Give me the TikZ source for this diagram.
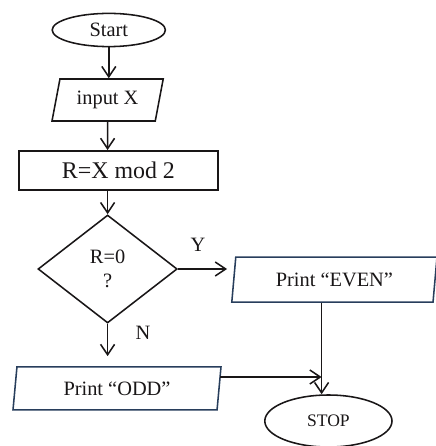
\documentclass[tikz,border=0pt]{standalone}
\usepackage{fontspec}
\setmainfont{Liberation Serif}
\usepackage{xcolor}
\usetikzlibrary{shapes.geometric,arrows.meta}
\definecolor{ink}{RGB}{25,22,23}
\definecolor{slate}{RGB}{40,62,92}

\begin{document}
\begin{tikzpicture}[
			line width=1.1pt, draw=ink, text=ink,
			term/.style={draw, ellipse, inner sep=0pt, font=\fontsize{14.5}{17}\selectfont},
			io/.style={draw, trapezium, trapezium stretches body, trapezium left angle=66, trapezium right angle=114, inner sep=0pt, font=\fontsize{14.5}{17}\selectfont},
			proc/.style={draw, rectangle, inner sep=0pt, minimum width=4.98cm, minimum height=0.98cm, font=\fontsize{17}{20}\selectfont},
			dec/.style={draw, diamond, aspect=1.29, inner sep=0pt, minimum width=3.48cm, minimum height=2.7cm, align=center, font=\fontsize{14.5}{17}\selectfont},
			lbl/.style={font=\fontsize{14.5}{17}\selectfont},
			arrow/.style={-{Straight Barb[length=2.6mm,width=3.5mm,line width=1.1pt]}, line width=1.1pt}
			]
			\useasboundingbox (0,0) rectangle (10.875,-11.15);
			\node[term, minimum width=2.83cm, minimum height=0.83cm] (start) at (2.72,-0.75) {Start};
			\node[io, minimum width=2.78cm, minimum height=1.05cm] (input) at (2.69,-2.5) {input X};
			\node[proc] (calc) at (2.96,-4.26) {R=X mod 2};
			\node[dec] (check) at (2.69,-6.725) {R=0\\?};
			\node[lbl] at (4.95,-6.125) {Y};
			\node[lbl] at (3.575,-8.325) {N};
			\coordinate (yes) at (5.675,-6.725);
			\node[io, draw=slate, trapezium left angle=74, trapezium right angle=106, minimum width=5.13cm, minimum height=1.125cm] (even) at (8.36,-6.99) {Print “EVEN”};
			\node[io, draw=slate, trapezium left angle=74, trapezium right angle=106, minimum width=5.2cm, minimum height=1.075cm] (odd) at (2.925,-9.71) {Print “ODD”};
			\node[term, minimum width=3.18cm, minimum height=1.3cm, font=\fontsize{12.5}{15}\selectfont] (stop) at (8.21,-10.525) {STOP};
			\coordinate (join) at (8.04,-9.425);
			\draw[arrow] (start) -- (start |- input.north);
			\draw[arrow] (input) -- (input |- calc.north);
			\draw[arrow] (calc.south -| check) -- (check.north);
			\draw[arrow] (check.east) -- (yes);
			\draw[arrow, shorten >=0.25cm] (check.south) -- (check.south |- odd.north);
			\draw[arrow] (even.south -| join) -- (stop.north -| join);
			\draw[arrow] (odd.east |- join) -- (join);
		\end{tikzpicture}
\end{document}
